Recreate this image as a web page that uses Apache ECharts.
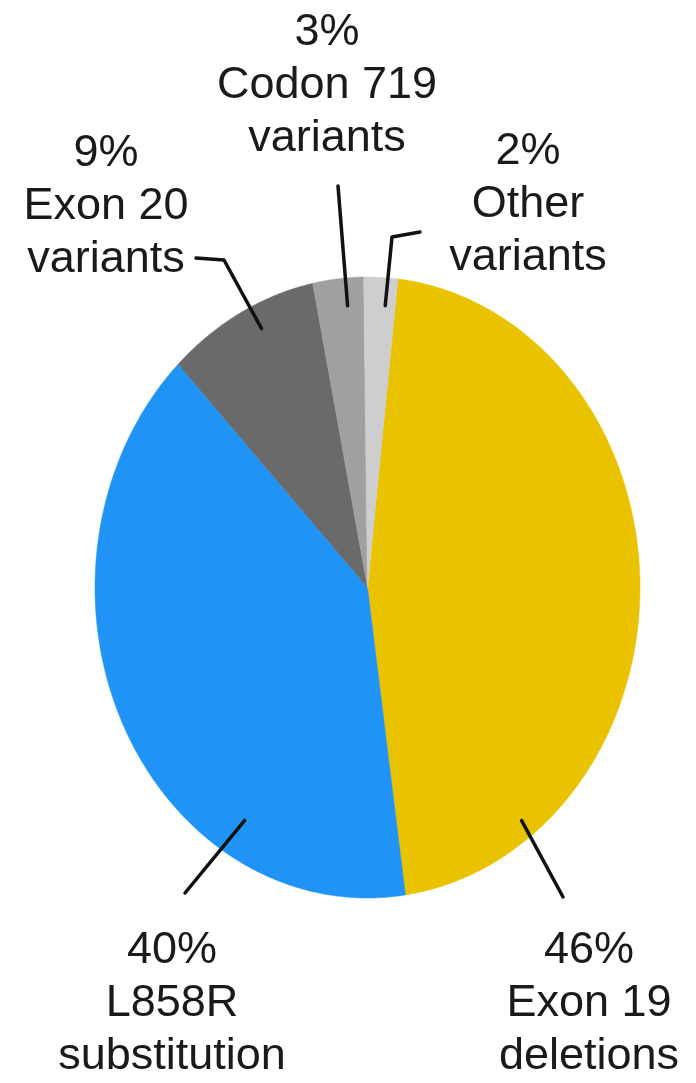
<!DOCTYPE html>
<html>
<head>
<meta charset="utf-8">
<script src="https://cdn.jsdelivr.net/npm/echarts@6/dist/echarts.min.js"></script>
<style>
html, body { margin: 0; padding: 0; background: #fff; }
#egfr-pie { width: 696px; height: 1083px; }
</style>
</head>
<body>
<div id="egfr-pie"></div>
<script>
var slice_names = ['Exon 19\ndeletions', 'L858R\nsubstitution', 'Exon 20\nvariants', 'Codon 719\nvariants', 'Other\nvariants'];
var slice_values = [46, 40, 9, 3, 2];
var slice_colors = ['#E9C200', '#1F94F6', '#6A6A6A', '#A0A0A0', '#CECECE'];
var start_angle = 6.4; /* degrees, clockwise from 12 o'clock */

/* Where each label sits (px) and how its leader line runs. */
var label_layout = [
    { x: 589, y: 1004, outer: [[563, 897]], inner: [143, 0.94] },
    { x: 172, y: 1004, outer: [[185, 893]], inner: [211, 0.875] },
    { x: 106, y: 207, outer: [[196, 258], [224, 260]], inner: [335, 0.92] },
    { x: 327, y: 86, outer: [[338, 186]], inner: [355.4, 0.91] },
    { x: 528, y: 205, outer: [[420, 232], [392, 237]], inner: [4.1, 0.91] }
];

var total = slice_values.reduce(function (a, b) { return a + b; }, 0);
var slice_starts = [];
var acc = 0;
slice_values.forEach(function (v) { slice_starts.push(acc); acc += v; });

function ellipse_point(api, angle, r) {
    var rad = angle * Math.PI / 180;
    return api.coord([r * Math.sin(rad), r * Math.cos(rad)]);
}

var echarts_pie = echarts.init(document.getElementById('egfr-pie'));

var echarts_options = {
    animation: false,
    grid: { left: 95, top: 277, width: 545, height: 621 },
    xAxis: { type: 'value', min: -1, max: 1, show: false },
    yAxis: { type: 'value', min: -1, max: 1, show: false },
    series: [
        {
            type: 'custom',
            data: slice_values.map(function (v, i) { return [i, v]; }),
            renderItem: function (params, api) {
                var i = api.value(0);
                var a0 = start_angle + slice_starts[i] / total * 360;
                var a1 = a0 + api.value(1) / total * 360;
                var points = [api.coord([0, 0])];
                var steps = Math.ceil(a1 - a0) * 2;
                for (var s = 0; s <= steps; s++) {
                    points.push(ellipse_point(api, a0 + (a1 - a0) * s / steps, 1));
                }
                return {
                    type: 'polygon',
                    shape: { points: points },
                    style: { fill: slice_colors[i], stroke: slice_colors[i], lineWidth: 0.5 }
                };
            }
        },
        {
            type: 'custom',
            data: slice_values.map(function (v, i) { return [i, v]; }),
            renderItem: function (params, api) {
                var i = api.value(0);
                var lay = label_layout[i];
                var line_points = lay.outer.slice();
                line_points.push(ellipse_point(api, lay.inner[0], lay.inner[1]));
                return {
                    type: 'group',
                    children: [
                        {
                            type: 'polyline',
                            shape: { points: line_points },
                            style: { stroke: '#111', lineWidth: 3.5, fill: null, lineJoin: 'round', lineCap: 'round' }
                        },
                        {
                            type: 'text',
                            x: lay.x,
                            y: lay.y,
                            style: {
                                text: api.value(1) + '%\n' + slice_names[i],
                                fill: '#1a1a1a',
                                font: '45px "Liberation Sans", Arial, sans-serif',
                                lineHeight: 53,
                                align: 'center',
                                verticalAlign: 'middle'
                            }
                        }
                    ]
                };
            }
        }
    ]
};

echarts_pie.setOption(echarts_options);
</script>
</body>
</html>
